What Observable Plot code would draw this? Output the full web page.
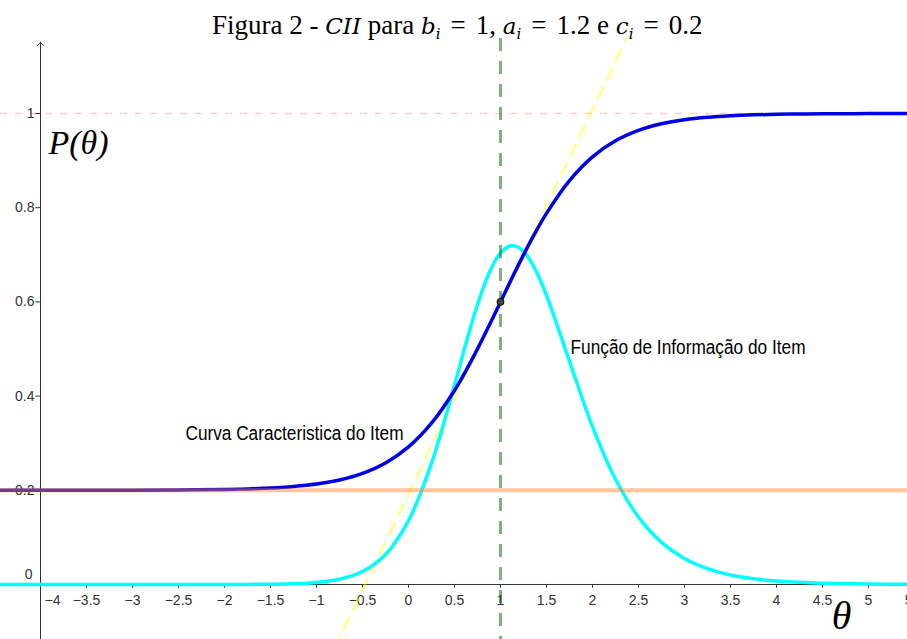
<!DOCTYPE html>
<html>
<head>
<meta charset="utf-8">
<script src="https://cdn.jsdelivr.net/npm/d3@7"></script>
<script src="https://cdn.jsdelivr.net/npm/@observablehq/plot@0.6"></script>
<style>
  html, body { margin: 0; padding: 0; background: #fff; overflow: hidden; }
  #wrap { position: relative; width: 907px; height: 639px; }
  #title { position: absolute; left: 0; top: 0; width: 907px; height: 38px; z-index: 2;
           font-family: "Liberation Serif", "Times New Roman", serif; font-size: 27px; color: #000; }
  #title span.t { position: absolute; left: 212px; top: 12px; white-space: nowrap; line-height: 26px; }
  #title i { font-family: "DejaVu Serif", "Liberation Serif", serif; font-size: 23px; }
  #title sub { font-size: 15px; vertical-align: -5px; line-height: 0; }
  #title .eq { margin: 0 10px; }
  #chart { position: absolute; left: 0; top: 38px; }
  #chart svg { overflow: hidden; display: block; }
</style>
</head>
<body>
<div id="wrap">
  <div id="title"><span class="t">Figura 2 - <i>CII</i> para <i>b<sub>i</sub></i><span class="eq">=</span>1, <i>a<sub>i</sub></i><span class="eq">=</span>1.2 e <i>c<sub>i</sub></i><span class="eq">=</span>0.2</span></div>
  <div id="chart"></div>
</div>
<script>
// ---- data ----
const theta = [-4.5,-4,-3.5,-3,-2.5,-2,-1.75,-1.5,-1.25,-1,-0.75,-0.5,-0.25,0,0.25,0.5,0.625,0.75,0.875,1,1.125,1.25,1.375,1.5,1.75,2,2.25,2.5,2.75,3,3.25,3.5,3.75,4,4.25,4.5,5,5.5];
const probability = [0.20001,0.20003,0.20008,0.20023,0.20063,0.20176,0.20292,0.20485,0.20804,0.2133,0.2219,0.23582,0.25793,0.29205,0.3424,0.412,0.45408,0.50016,0.54928,0.6,0.65072,0.69984,0.746,0.788,0.8576,0.908,0.94208,0.96416,0.97808,0.9867,0.99196,0.99515,0.99708,0.99825,0.99894,0.99937,0.99977,0.99991];
const information = [0,0,0,0,0.00003,0.0001,0.0002,0.0006,0.0016,0.0043,0.0111,0.0275,0.0637,0.1356,0.257,0.4236,0.5124,0.5943,0.6606,0.704,0.7197,0.7075,0.67,0.6139,0.4738,0.3352,0.2234,0.1431,0.0895,0.0551,0.0336,0.0203,0.0123,0.0074,0.0045,0.0027,0.001,0.0003];
const tangentTheta = [-0.8, 2.5];
const tangentP = [-0.1344, 1.212];
const difficulty = [1];
const pointTheta = [1];
const pointP = [0.6];
const guessing = [0.2];
const asymptote = [1];
const xTicks = [-4,-3.5,-3,-2.5,-2,-1.5,-1,-0.5,0,0.5,1,1.5,2,2.5,3,3.5,4,4.5,5,5.5];
const xTickLabels = ["−4","−3.5","−3","−2.5","−2","−1.5","−1","−0.5","0","0.5","1","1.5","2","2.5","3","3.5","4","4.5","5","5.5"];
const yTicks = [0.2,0.4,0.6,0.8,1];
const yTickLabels = ["0.2","0.4","0.6","0.8","1"];
const curveLabels = [
  {x: -2.424, y: 0.3206, text: "Curva Caracteristica do Item", width: 218},
  {x: 1.761, y: 0.503, text: "Função de Informação do Item", width: 235}
];

const curveData = theta.map((t, i) => ({t, p: probability[i], info: information[i]}));
const tangentData = tangentTheta.map((t, i) => ({t, p: tangentP[i]}));
const xTickData = xTicks.map((v, i) => ({v, label: xTickLabels[i]}));
const yTickData = yTicks.map((v, i) => ({v, label: yTickLabels[i]}));
const yAxisX = xTicks[0];

const sans = "'Liberation Sans', Arial, sans-serif";
const serif = "'Liberation Serif', 'Times New Roman', serif";

const chart = Plot.plot({
  width: 907,
  height: 601,
  margin: 0,
  x: {domain: [-4.4348, 5.4239], axis: null},
  y: {domain: [-0.1168, 1.1592], axis: null},
  style: {background: "#fff"},
  marks: [
    Plot.ruleY(asymptote, {stroke: "#ff0000", strokeOpacity: 0.2, strokeWidth: 1.6, strokeDasharray: "7,8"}),
    Plot.ruleY([0], {stroke: "#333", strokeWidth: 1}),
    Plot.ruleX(xTicks, {y1: 0, y2: -0.008, stroke: "#333"}),
    Plot.ruleX([yAxisX], {y1: -0.1168, y2: 1.151, stroke: "#333", strokeWidth: 1}),
    Plot.arrow([{x1: yAxisX, y1: 1.12, x2: yAxisX, y2: 1.151}], {x1: "x1", y1: "y1", x2: "x2", y2: "y2", stroke: "#333", strokeWidth: 1, headLength: 7, headAngle: 90}),
    Plot.ruleY(yTicks, {x1: yAxisX - 0.05, x2: yAxisX, stroke: "#333"}),
    Plot.text(xTickData.filter(d => d.v !== yAxisX), {x: "v", y: 0, text: "label", dy: 16, fontSize: 14, fill: "#333", fontFamily: sans}),
    Plot.text(xTickData.filter(d => d.v === yAxisX), {x: "v", y: 0, text: "label", dy: 16, dx: 12, fontSize: 14, fill: "#333", fontFamily: sans}),
    Plot.text(yTickData, {x: yAxisX, y: "v", text: "label", dx: -6, textAnchor: "end", fontSize: 14, fill: "#333", fontFamily: sans}),
    Plot.text(["0"], {x: yAxisX, y: 0, text: d => d, dx: -8, dy: -10, textAnchor: "end", fontSize: 14, fill: "#333", fontFamily: sans}),
    Plot.line(tangentData, {x: "t", y: "p", stroke: "#ffff00", strokeOpacity: 0.4, strokeWidth: 3, strokeDasharray: "12,9"}),
    Plot.line(curveData, {x: "t", y: "info", stroke: "#00ffff", strokeWidth: 3.5, curve: "catmull-rom"}),
    Plot.line(curveData, {x: "t", y: "p", stroke: "#0000e6", strokeWidth: 3.5, curve: "catmull-rom"}),
    Plot.ruleY(guessing, {stroke: "#ff7f27", strokeOpacity: 0.45, strokeWidth: 4}),
    Plot.ruleX(difficulty, {stroke: "#006400", strokeOpacity: 0.5, strokeWidth: 3, strokeDasharray: "13,10"}),
    Plot.dot(pointTheta.map((t, i) => ({t, p: pointP[i]})), {x: "t", y: "p", r: 3.5, fill: "#444", stroke: "#111", strokeWidth: 1}),
    Plot.text(curveLabels, {x: "x", y: "y", text: "text", textAnchor: "start", fontSize: 20, fill: "#000", fontFamily: sans}),
    Plot.text(["P(θ)"], {x: -3.587, y: 0.938, text: d => d, fontSize: 34, fontStyle: "italic", fontFamily: serif, fill: "#000"}),
    Plot.text(["θ"], {x: 4.707, y: -0.068, text: d => d, fontSize: 40, fontStyle: "italic", fontFamily: serif, fill: "#000"})
  ]
});
// compress the two curve labels to the narrow width seen in the reference
d3.select(chart).selectAll("text").each(function() {
  const lab = curveLabels.find(c => c.text === this.textContent);
  if (lab) {
    this.setAttribute("textLength", lab.width);
    this.setAttribute("lengthAdjust", "spacingAndGlyphs");
  }
});
document.getElementById("chart").appendChild(chart);
</script>
</body>
</html>
